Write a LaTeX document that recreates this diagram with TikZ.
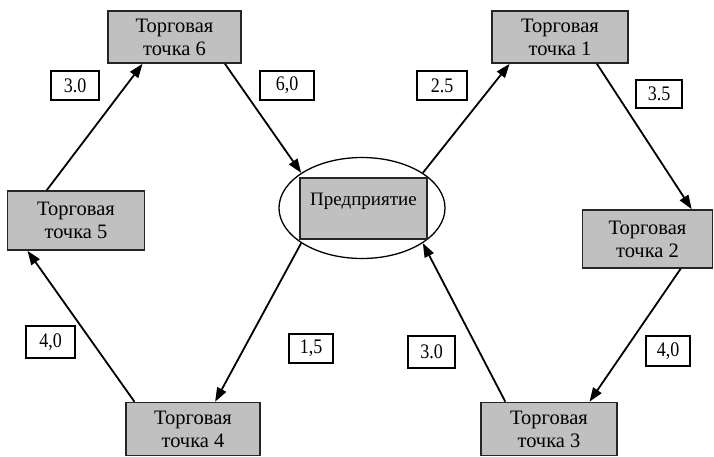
\documentclass[tikz,border=0pt]{standalone}
\usepackage{fontspec}
\usepackage{graphicx}
\setmainfont{Liberation Serif}
\usetikzlibrary{arrows.meta,shapes.geometric}
\definecolor{boxgray}{HTML}{C0C0C0}
\newcommand\lbltext[1]{\scalebox{1}[1.15]{#1}}
\tikzset{
  tbox/.style={draw=black!85, line width=1.6pt, fill=boxgray, rectangle, inner sep=0pt,
    align=center, font=\fontsize{20.5}{23}\selectfont},
  lbox/.style={draw=black, line width=1.3pt, fill=white, rectangle, inner sep=0pt,
    font=\fontsize{18}{20}\selectfont},
  arr/.style={line width=1.8pt, -{Triangle[length=14pt,width=10pt]}},
}
\begin{document}
\begin{tikzpicture}[x=1pt,y=-1pt]
\useasboundingbox (0,0) rectangle (714,456);
% ellipse and enterprise
\node[ellipse, draw, line width=1.3pt, minimum width=166pt, minimum height=101pt, inner sep=0pt] (ell) at (362,208) {};
\node[tbox, font=\fontsize{19}{22}\selectfont, minimum width=127pt, minimum height=61pt, text height=12pt, text depth=19pt] (ent) at (363.5,208.5) {Предприятие};
% trade points
\node[tbox, minimum width=133pt, minimum height=52pt] (b6) at (174.5,37) {Торговая\\точка 6};
\node[tbox, minimum width=137pt, minimum height=59pt] (b5) at (76,220.5) {Торговая\\точка 5};
\node[tbox, minimum width=136pt, minimum height=52pt] (b1) at (560,37) {Торговая\\точка 1};
\node[tbox, minimum width=130pt, minimum height=58pt] (b2) at (647.5,239) {Торговая\\точка 2};
\node[tbox, minimum width=136pt, minimum height=53pt] (b3) at (549,429) {Торговая\\точка 3};
\node[tbox, minimum width=134pt, minimum height=53pt] (b4) at (193,429) {Торговая\\точка 4};
% arrows
\draw[arr] (b5.134) -- (b6.-140);
\draw[arr] (b6.-28) -- (ell.150);
\draw[arr] (ell.30) -- (b1.-152);
\draw[arr] (b1.-36) -- (b2.34);
\draw[arr] (b2.-42) -- (b3.34);
\draw[arr] (b3.148) -- (ell.-30);
\draw[arr] (ell.-150) -- (b4.51);
\draw[arr] (b4.155) -- (b5.-148);
% labels
\node[lbox, minimum width=48pt, minimum height=29pt] (l1) at (75,85.5) {\lbltext{3.0}};
\node[lbox, minimum width=54pt, minimum height=29pt] (l2) at (287,85.5) {\lbltext{6,0}};
\node[lbox, minimum width=50pt, minimum height=29pt] (l3) at (442,85.5) {\lbltext{2.5}};
\node[lbox, minimum width=46pt, minimum height=28pt] (l4) at (659,94) {\lbltext{3.5}};
\node[lbox, minimum width=49pt, minimum height=32pt] (l5) at (50.5,342) {\lbltext{4,0}};
\node[lbox, minimum width=44pt, minimum height=29pt] (l6) at (311,348.5) {\lbltext{1,5}};
\node[lbox, minimum width=47pt, minimum height=32pt] (l7) at (431.5,352) {\lbltext{3.0}};
\node[lbox, minimum width=44pt, minimum height=30pt] (l8) at (668,351) {\lbltext{4,0}};
\end{tikzpicture}
\end{document}
